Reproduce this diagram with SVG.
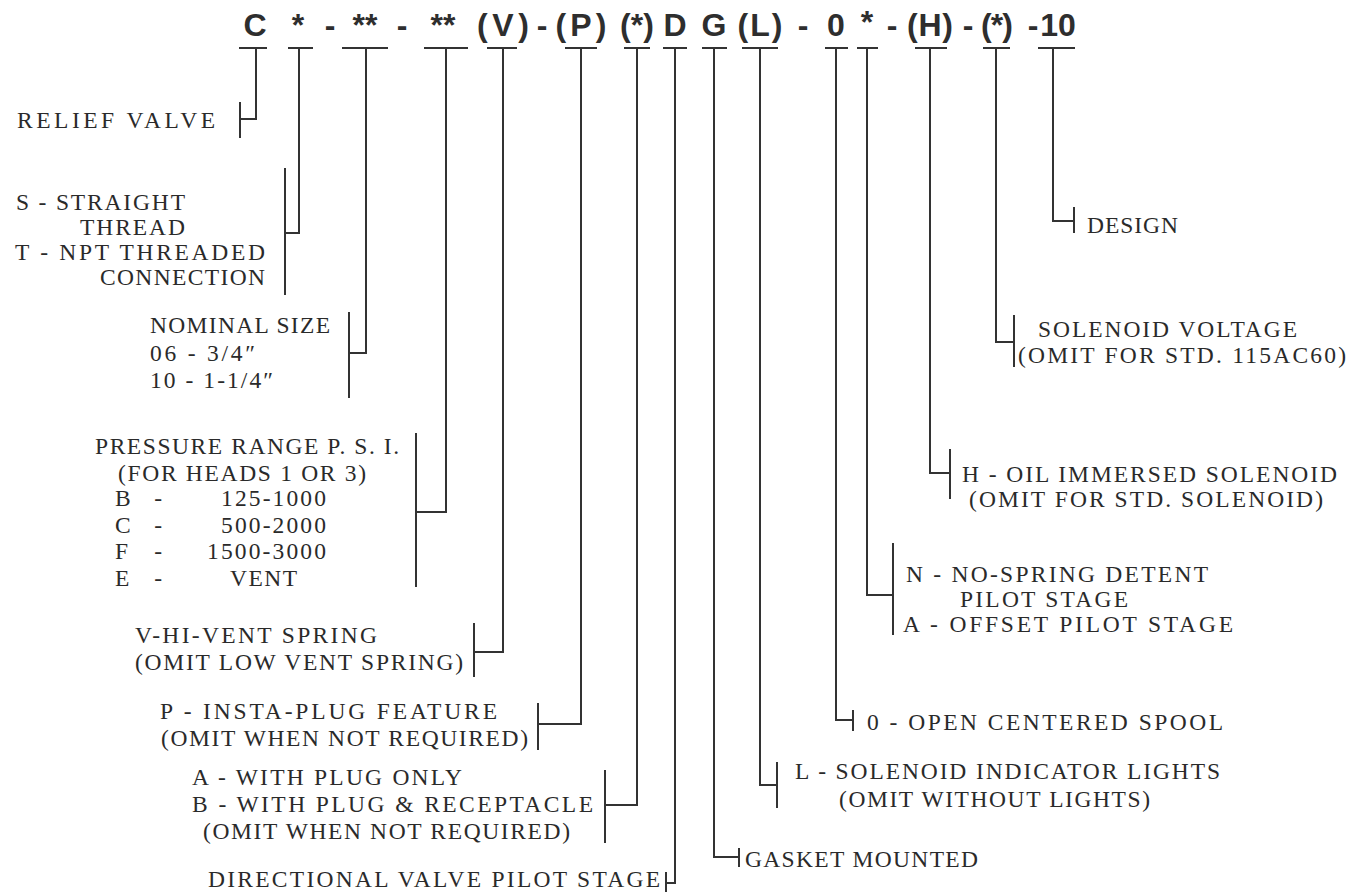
<svg xmlns="http://www.w3.org/2000/svg" width="1348" height="896" viewBox="0 0 1348 896">
<style>
.h{font-family:"Liberation Sans",Arial,sans-serif;font-weight:bold;font-size:32px;fill:#2e2e2e;text-anchor:middle}
.t{font-family:"Liberation Serif","Times New Roman",serif;font-size:23.5px;fill:#2a2a2a}
.ln{stroke:#333;stroke-width:2;fill:none}
</style>
<rect width="1348" height="896" fill="#fff"/>
<g id="code">
<text class="h" x="255" y="36">C</text>
<text class="h" x="298" y="36">*</text>
<text class="h" x="330" y="36">-</text>
<text class="h" x="365" y="36">**</text>
<text class="h" x="402" y="36">-</text>
<text class="h" x="443" y="36">**</text>
<text class="h" x="503" y="36" textLength="52" lengthAdjust="spacing">(V)</text>
<text class="h" x="542" y="36">-</text>
<text class="h" x="581" y="36" textLength="51" lengthAdjust="spacing">(P)</text>
<text class="h" x="637" y="36" textLength="34" lengthAdjust="spacing">(*)</text>
<text class="h" x="675" y="36">D</text>
<text class="h" x="714" y="36">G</text>
<text class="h" x="760" y="36" textLength="45" lengthAdjust="spacing">(L)</text>
<text class="h" x="803" y="36">-</text>
<text class="h" x="836" y="36">0</text>
<text class="h" x="867" y="33">*</text>
<text class="h" x="892" y="36">-</text>
<text class="h" x="930" y="36" textLength="46" lengthAdjust="spacing">(H)</text>
<text class="h" x="968" y="36">-</text>
<text class="h" x="997" y="36" textLength="32" lengthAdjust="spacing">(*)</text>
<text class="h" x="1033" y="36">-</text>
<text class="h" x="1058" y="36">10</text>
</g>
<g id="connectors" class="ln">
<path d="M239 48H267M256 48V119H240M240 102V138"/>
<path d="M288 48H313M299 48V233H285M285 168V295"/>
<path d="M342 48H388M366 48V353H349M349 312V398"/>
<path d="M424 48H468M446 48V512H416M416 433V587"/>
<path d="M487 48H517M503 48V652H474M474 623V677"/>
<path d="M565 48H597M581 48V724H538M538 703V750"/>
<path d="M624 48H650M637 48V805H605M605 770V843"/>
<path d="M663 48H687M675 48V883H666M666 872V892"/>
<path d="M702 48H727M714 48V857H739M739 848V867"/>
<path d="M742 48H778M760 48V785H777M777 762V808"/>
<path d="M825 48H848M836 48V720H853M853 710V731"/>
<path d="M857 48H878M867 48V595H893M893 543V635"/>
<path d="M915 48H947M930 48V473H950M950 449V499"/>
<path d="M983 48H1010M996 48V342H1014M1014 315V367"/>
<path d="M1038 48H1075M1053 48V221H1074M1074 207V233"/>
</g>
<g id="relief-valve"><text class="t" x="17" y="128" textLength="198" lengthAdjust="spacing">RELIEF VALVE</text></g>
<g id="thread">
<text class="t" x="16" y="210" textLength="169" lengthAdjust="spacing">S - STRAIGHT</text>
<text class="t" x="80" y="235" textLength="105" lengthAdjust="spacing">THREAD</text>
<text class="t" x="15" y="260" textLength="250" lengthAdjust="spacing">T - NPT THREADED</text>
<text class="t" x="100" y="285" textLength="165" lengthAdjust="spacing">CONNECTION</text>
</g>
<g id="nominal-size">
<text class="t" x="150" y="333" textLength="180" lengthAdjust="spacing">NOMINAL SIZE</text>
<text class="t" x="150" y="361" textLength="105" lengthAdjust="spacing">06 - 3/4″</text>
<text class="t" x="150" y="388" textLength="123" lengthAdjust="spacing">10 - 1-1/4″</text>
</g>
<g id="pressure-range">
<text class="t" x="95" y="454" textLength="304" lengthAdjust="spacing">PRESSURE RANGE P. S. I.</text>
<text class="t" x="118" y="481" textLength="248" lengthAdjust="spacing">(FOR HEADS 1 OR 3)</text>
<text class="t" x="115" y="506" textLength="47" lengthAdjust="spacing">B -</text>
<text class="t" x="221" y="506" textLength="105" lengthAdjust="spacing">125-1000</text>
<text class="t" x="115" y="533" textLength="47" lengthAdjust="spacing">C -</text>
<text class="t" x="221" y="533" textLength="105" lengthAdjust="spacing">500-2000</text>
<text class="t" x="115" y="559" textLength="47" lengthAdjust="spacing">F -</text>
<text class="t" x="207" y="559" textLength="119" lengthAdjust="spacing">1500-3000</text>
<text class="t" x="115" y="586" textLength="47" lengthAdjust="spacing">E -</text>
<text class="t" x="230" y="586" textLength="67" lengthAdjust="spacing">VENT</text>
</g>
<g id="vent-spring">
<text class="t" x="135" y="643" textLength="242" lengthAdjust="spacing">V-HI-VENT SPRING</text>
<text class="t" x="135" y="670" textLength="328" lengthAdjust="spacing">(OMIT LOW VENT SPRING)</text>
</g>
<g id="insta-plug">
<text class="t" x="160" y="719" textLength="337" lengthAdjust="spacing">P - INSTA-PLUG FEATURE</text>
<text class="t" x="161" y="746" textLength="367" lengthAdjust="spacing">(OMIT WHEN NOT REQUIRED)</text>
</g>
<g id="plug-receptacle">
<text class="t" x="192" y="785" textLength="270" lengthAdjust="spacing">A - WITH PLUG ONLY</text>
<text class="t" x="192" y="812" textLength="401" lengthAdjust="spacing">B - WITH PLUG &amp; RECEPTACLE</text>
<text class="t" x="203" y="839" textLength="367" lengthAdjust="spacing">(OMIT WHEN NOT REQUIRED)</text>
</g>
<g id="directional"><text class="t" x="208" y="887" textLength="452" lengthAdjust="spacing">DIRECTIONAL VALVE PILOT STAGE</text></g>
<g id="gasket"><text class="t" x="745" y="867" textLength="233" lengthAdjust="spacing">GASKET MOUNTED</text></g>
<g id="indicator-lights">
<text class="t" x="795" y="779" textLength="425" lengthAdjust="spacing">L - SOLENOID INDICATOR LIGHTS</text>
<text class="t" x="839" y="807" textLength="311" lengthAdjust="spacing">(OMIT WITHOUT LIGHTS)</text>
</g>
<g id="spool"><text class="t" x="867" y="730" textLength="356" lengthAdjust="spacing">0 - OPEN CENTERED SPOOL</text></g>
<g id="pilot-stage">
<text class="t" x="906" y="582" textLength="302" lengthAdjust="spacing">N - NO-SPRING DETENT</text>
<text class="t" x="960" y="607" textLength="168" lengthAdjust="spacing">PILOT STAGE</text>
<text class="t" x="903" y="632" textLength="330" lengthAdjust="spacing">A - OFFSET PILOT STAGE</text>
</g>
<g id="oil-immersed">
<text class="t" x="962" y="482" textLength="375" lengthAdjust="spacing">H - OIL IMMERSED SOLENOID</text>
<text class="t" x="969" y="507" textLength="354" lengthAdjust="spacing">(OMIT FOR STD. SOLENOID)</text>
</g>
<g id="voltage">
<text class="t" x="1038" y="337" textLength="259" lengthAdjust="spacing">SOLENOID VOLTAGE</text>
<text class="t" x="1018" y="363" textLength="328" lengthAdjust="spacing">(OMIT FOR STD. 115AC60)</text>
</g>
<g id="design"><text class="t" x="1087" y="233" textLength="91" lengthAdjust="spacing">DESIGN</text></g>
</svg>
